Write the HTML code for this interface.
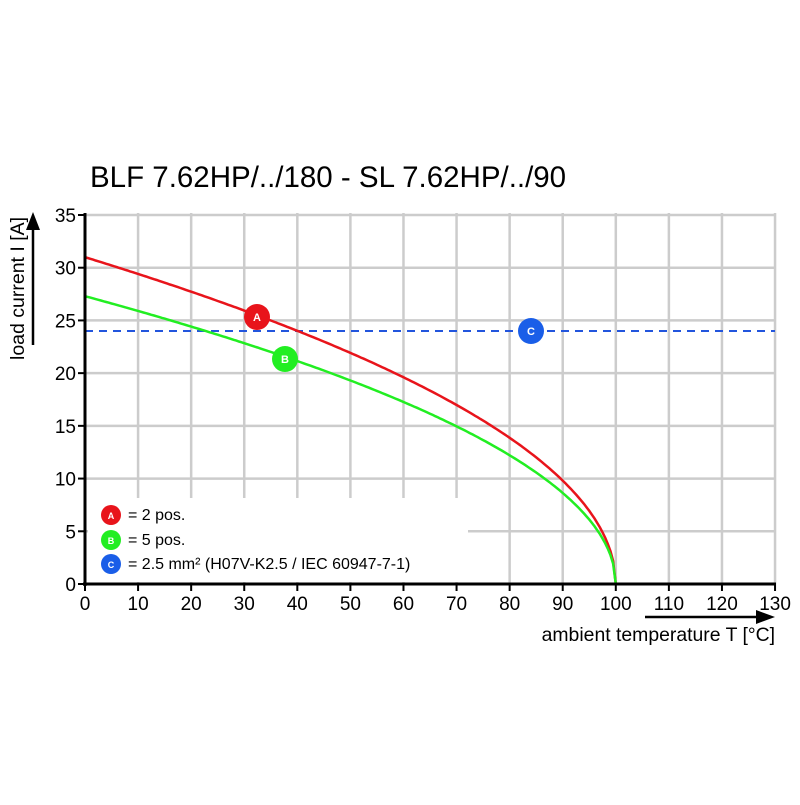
<!DOCTYPE html>
<html><head><style>body{margin:0;background:#fff}svg{font-family:"Liberation Sans",sans-serif}</style></head><body>
<svg width="800" height="800" viewBox="0 0 800 800" xmlns="http://www.w3.org/2000/svg">
<text x="90" y="187" font-size="29.5">BLF 7.62HP/../180 - SL 7.62HP/../90</text>
<g stroke="#cccccc" stroke-width="2.5" id="grid"></g>
<rect x="88" y="498" width="380" height="84" fill="#fff"/>
<line x1="85" y1="331" x2="775" y2="331" stroke="#2255dd" stroke-width="2" stroke-dasharray="8,6"/>
<path id="pa" fill="none" stroke="#e8141b" stroke-width="2.5"/>
<path id="pb" fill="none" stroke="#22ee22" stroke-width="2.5"/>
<line x1="85" y1="213" x2="85" y2="586" stroke="#000" stroke-width="3"/>
<line x1="83" y1="584" x2="776" y2="584" stroke="#000" stroke-width="3"/>
<g id="ticks" font-size="19"></g>
<line x1="33" y1="345" x2="33" y2="225" stroke="#000" stroke-width="2.5"/>
<polygon points="26,230 40,230 33,212" fill="#000"/>
<text transform="translate(24,360) rotate(-90)" font-size="19.5" text-anchor="start">load current I [A]</text>
<line x1="645" y1="617" x2="760" y2="617" stroke="#000" stroke-width="2.5"/>
<polygon points="756,610 756,624 775,617" fill="#000"/>
<text x="775" y="641" font-size="19.4" text-anchor="end">ambient temperature T [°C]</text>
<g font-size="11" font-weight="bold" fill="#fff" text-anchor="middle">
<circle cx="257" cy="317" r="13" fill="#e8141b"/><text x="257" y="321">A</text>
<circle cx="285" cy="359" r="13" fill="#22ee22"/><text x="285" y="363">B</text>
<circle cx="531" cy="331" r="13" fill="#1a5ee8"/><text x="531" y="335">C</text>
<circle cx="111" cy="515" r="10" fill="#e8141b"/><text x="111" y="519" font-size="9">A</text>
<circle cx="111" cy="540" r="10" fill="#22ee22"/><text x="111" y="544" font-size="9">B</text>
<circle cx="111" cy="564" r="10" fill="#1a5ee8"/><text x="111" y="568" font-size="9">C</text>
</g>
<g font-size="16"><text x="128" y="520">= 2 pos.</text><text x="128" y="545">= 5 pos.</text><text x="128" y="569">= 2.5 mm² (H07V-K2.5 / IEC 60947-7-1)</text></g>
</svg>
<script>
var X=t=>85+t*5.308,Y=i=>584-i*10.543,ns="http://www.w3.org/2000/svg";
var g=document.getElementById("grid"),tk=document.getElementById("ticks");
function el(p,t,a,txt){var e=document.createElementNS(ns,t);for(var k in a)e.setAttribute(k,a[k]);if(txt!=null)e.textContent=txt;p.appendChild(e);}
for(var t=10;t<=130;t+=10)el(g,"line",{x1:X(t),y1:213,x2:X(t),y2:584});
for(var i=5;i<=35;i+=5)el(g,"line",{x1:85,y1:Y(i),x2:775,y2:Y(i)});
for(var t=0;t<=130;t+=10){el(tk,"line",{x1:X(t),y1:584,x2:X(t),y2:591,stroke:"#000","stroke-width":2});el(tk,"text",{x:X(t),y:610,"text-anchor":"middle"},t);}
for(var i=0;i<=35;i+=5){el(tk,"line",{x1:78,y1:Y(i),x2:85,y2:Y(i),stroke:"#000","stroke-width":2});el(tk,"text",{x:76,y:Y(i)+7,"text-anchor":"end"},i);}
function c(a){var d="";for(var t=0;t<=100;t+=0.5){d+=(t?"L":"M")+X(t).toFixed(1)+","+Y(a*Math.sqrt((100-t)/100)).toFixed(1);}return d;}
document.getElementById("pa").setAttribute("d",c(31));
document.getElementById("pb").setAttribute("d",c(27.3));
</script>
</body></html>
